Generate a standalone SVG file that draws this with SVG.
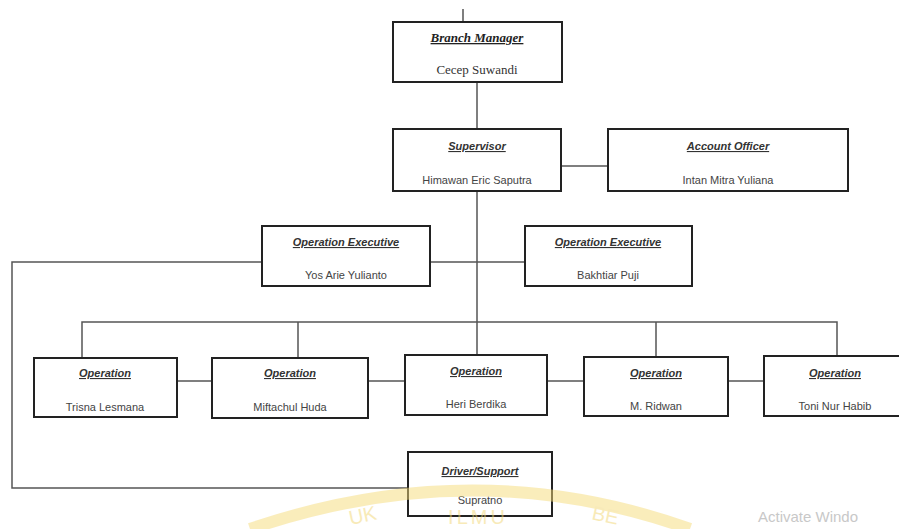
<svg xmlns="http://www.w3.org/2000/svg" width="899" height="529" viewBox="0 0 899 529">
<style>
.box{fill:#fff;stroke:#222;stroke-width:2}
.conn{fill:none;stroke:#555;stroke-width:1.5}
.ttl{font-family:"Liberation Sans",Arial,sans-serif;font-size:11px;font-weight:bold;font-style:italic;text-decoration:underline;fill:#333;text-anchor:middle}
.nm{font-family:"Liberation Sans",Arial,sans-serif;font-size:11px;fill:#444;text-anchor:middle}
.sttl{font-family:"Liberation Serif","Times New Roman",serif;font-size:13px;font-weight:bold;font-style:italic;text-decoration:underline;fill:#222;text-anchor:middle}
.snm{font-family:"Liberation Serif","Times New Roman",serif;font-size:13px;fill:#333;text-anchor:middle}
.wm{font-family:"Liberation Sans",Arial,sans-serif;font-size:20px;fill:#f2d774;text-anchor:middle}
</style>
<rect width="899" height="529" fill="#fff"/>

<g id="connectors">
<line class="conn" x1="463" y1="9" x2="463" y2="26"/>
<line class="conn" x1="477" y1="82" x2="477" y2="129"/>
<line class="conn" x1="561" y1="166" x2="608" y2="166"/>
<line class="conn" x1="477" y1="191" x2="477" y2="355"/>
<line class="conn" x1="430" y1="262" x2="525" y2="262"/>
<polyline class="conn" points="262,262 12,262 12,488 408,488"/>
<polyline class="conn" points="82,358 82,322 837,322 837,356"/>
<line class="conn" x1="298" y1="322" x2="298" y2="358"/>
<line class="conn" x1="656" y1="322" x2="656" y2="357"/>
<line class="conn" x1="177" y1="381" x2="212" y2="381"/>
<line class="conn" x1="368" y1="381" x2="405" y2="381"/>
<line class="conn" x1="547" y1="381" x2="584" y2="381"/>
<line class="conn" x1="728" y1="381" x2="764" y2="381"/>
</g>

<g id="branch-manager">
<rect class="box" x="393" y="22" width="169" height="60"/>
<text class="sttl" x="477" y="42">Branch Manager</text>
<text class="snm" x="477" y="74">Cecep Suwandi</text>
</g>
<g id="supervisor">
<rect class="box" x="393" y="129" width="168" height="62"/>
<text class="ttl" x="477" y="150">Supervisor</text>
<text class="nm" x="477" y="184">Himawan Eric Saputra</text>
</g>
<g id="account-officer">
<rect class="box" x="608" y="129" width="240" height="62"/>
<text class="ttl" x="728" y="150">Account Officer</text>
<text class="nm" x="728" y="184">Intan Mitra Yuliana</text>
</g>
<g id="opex-1">
<rect class="box" x="262" y="226" width="168" height="60"/>
<text class="ttl" x="346" y="246">Operation Executive</text>
<text class="nm" x="346" y="279">Yos Arie Yulianto</text>
</g>
<g id="opex-2">
<rect class="box" x="525" y="226" width="167" height="60"/>
<text class="ttl" x="608" y="246">Operation Executive</text>
<text class="nm" x="608" y="279">Bakhtiar Puji</text>
</g>
<g id="op-1">
<rect class="box" x="34" y="358" width="143" height="59"/>
<text class="ttl" x="105" y="377">Operation</text>
<text class="nm" x="105" y="411">Trisna Lesmana</text>
</g>
<g id="op-2">
<rect class="box" x="212" y="358" width="156" height="60"/>
<text class="ttl" x="290" y="377">Operation</text>
<text class="nm" x="290" y="411">Miftachul Huda</text>
</g>
<g id="op-3">
<rect class="box" x="405" y="355" width="142" height="60"/>
<text class="ttl" x="476" y="375">Operation</text>
<text class="nm" x="476" y="408">Heri Berdika</text>
</g>
<g id="op-4">
<rect class="box" x="584" y="357" width="144" height="59"/>
<text class="ttl" x="656" y="377">Operation</text>
<text class="nm" x="656" y="410">M. Ridwan</text>
</g>
<g id="op-5">
<rect class="box" x="764" y="356" width="150" height="60"/>
<text class="ttl" x="835" y="377">Operation</text>
<text class="nm" x="835" y="410">Toni Nur Habib</text>
</g>
<g id="driver">
<rect class="box" x="408" y="452" width="144" height="64"/>
<text class="ttl" x="480" y="475">Driver/Support</text>
<text class="nm" x="480" y="504">Supratno</text>
</g>

<!-- watermark overlay -->
<g id="watermark" opacity="0.5">
<path d="M 250 529 Q 475 452 690 529" fill="none" stroke="#f6dc7a" stroke-width="12"/>
<text class="wm" x="364" y="522" transform="rotate(-12 364 522)">UK</text>
<text class="wm" x="478" y="524" letter-spacing="3">ILMU</text>
<text class="wm" x="604" y="522" transform="rotate(12 604 522)">BE</text>
</g>
<text x="758" y="522" font-family="Liberation Sans,Arial,sans-serif" font-size="15" fill="#c8c8c8">Activate Windo</text>
</svg>
